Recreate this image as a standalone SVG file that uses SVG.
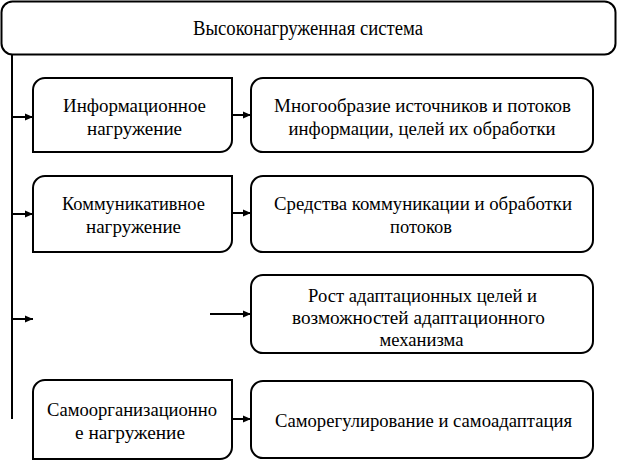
<svg xmlns="http://www.w3.org/2000/svg" width="618" height="461" viewBox="0 0 618 461" font-family="Liberation Serif, serif" font-size="19">
<marker id="ah" viewBox="0 0 8 8" refX="8" refY="4" markerWidth="8" markerHeight="8" markerUnits="userSpaceOnUse" orient="auto">
<path d="M0,0.5 L8,4 L0,7.5 Z" fill="#000"/>
</marker>
<g id="root">
<rect x="1.5" y="1.5" width="614" height="53" rx="11" fill="#fff" stroke="#000" stroke-width="2"/>
<text x="308" y="35" text-anchor="middle" font-family="Liberation Serif" font-size="20" textLength="230" lengthAdjust="spacingAndGlyphs">Высоконагруженная система</text>
</g>
<g id="connectors" fill="none" stroke="#000" stroke-width="2">
<path d="M12,55 V419"/>
<path d="M12,117 H33" marker-end="url(#ah)"/>
<path d="M12,214 H33" marker-end="url(#ah)"/>
<path d="M12,319 H33" marker-end="url(#ah)"/>
<path d="M232,115 H251" marker-end="url(#ah)"/>
<path d="M232,213 H251" marker-end="url(#ah)"/>
<path d="M210,314 H251" marker-end="url(#ah)"/>
<path d="M232,419 H251" marker-end="url(#ah)"/>
</g>
<g id="info-load">
<path d="M45,78 H232 V140 A12,12 0 0 1 220,152 H33 V90 A12,12 0 0 1 45,78 Z" fill="#fff" stroke="#000" stroke-width="2"/>
<text x="134.5" y="112" text-anchor="middle" font-family="Liberation Serif" font-size="19" textLength="143" lengthAdjust="spacingAndGlyphs">Информационное</text>
<text x="134.5" y="135" text-anchor="middle" font-family="Liberation Serif" font-size="19" textLength="95" lengthAdjust="spacingAndGlyphs">нагружение</text>
</g>
<g id="comm-load">
<path d="M45,176 H232 V240 A12,12 0 0 1 220,252 H33 V188 A12,12 0 0 1 45,176 Z" fill="#fff" stroke="#000" stroke-width="2"/>
<text x="133.5" y="210" text-anchor="middle" font-family="Liberation Serif" font-size="19" textLength="143" lengthAdjust="spacingAndGlyphs">Коммуникативное</text>
<text x="133.5" y="233" text-anchor="middle" font-family="Liberation Serif" font-size="19" textLength="95" lengthAdjust="spacingAndGlyphs">нагружение</text>
</g>
<g id="self-org-load">
<path d="M45,380 H232 V447 A12,12 0 0 1 220,459 H33 V392 A12,12 0 0 1 45,380 Z" fill="#fff" stroke="#000" stroke-width="2"/>
<text x="132" y="416" text-anchor="middle" font-family="Liberation Serif" font-size="19" textLength="170" lengthAdjust="spacingAndGlyphs">Самоорганизационно</text>
<text x="130" y="439" text-anchor="middle" font-family="Liberation Serif" font-size="19" textLength="110" lengthAdjust="spacingAndGlyphs">е нагружение</text>
</g>
<g id="sources">
<rect x="251" y="78" width="342" height="74" rx="12" fill="#fff" stroke="#000" stroke-width="2"/>
<text x="422.5" y="112" text-anchor="middle" font-family="Liberation Serif" font-size="19" textLength="297" lengthAdjust="spacingAndGlyphs">Многообразие источников и потоков</text>
<text x="422" y="135" text-anchor="middle" font-family="Liberation Serif" font-size="19" textLength="267" lengthAdjust="spacingAndGlyphs">информации, целей их обработки</text>
</g>
<g id="means">
<rect x="251" y="176" width="342" height="76" rx="12" fill="#fff" stroke="#000" stroke-width="2"/>
<text x="423" y="210" text-anchor="middle" font-family="Liberation Serif" font-size="19" textLength="298" lengthAdjust="spacingAndGlyphs">Средства коммуникации и обработки</text>
<text x="421" y="233" text-anchor="middle" font-family="Liberation Serif" font-size="19" textLength="62" lengthAdjust="spacingAndGlyphs">потоков</text>
</g>
<g id="growth">
<rect x="251" y="275" width="342" height="78" rx="12" fill="#fff" stroke="#000" stroke-width="2"/>
<text x="422.5" y="302" text-anchor="middle" font-family="Liberation Serif" font-size="19" textLength="229" lengthAdjust="spacingAndGlyphs">Рост адаптационных целей и</text>
<text x="418.5" y="324" text-anchor="middle" font-family="Liberation Serif" font-size="19" textLength="253" lengthAdjust="spacingAndGlyphs">возможностей адаптационного</text>
<text x="421.5" y="346" text-anchor="middle" font-family="Liberation Serif" font-size="19" textLength="84" lengthAdjust="spacingAndGlyphs">механизма</text>
</g>
<g id="selfreg">
<rect x="251" y="381" width="342" height="77" rx="12" fill="#fff" stroke="#000" stroke-width="2"/>
<text x="423.5" y="427" text-anchor="middle" font-family="Liberation Serif" font-size="19" textLength="297" lengthAdjust="spacingAndGlyphs">Саморегулирование и самоадаптация</text>
</g>
</svg>
